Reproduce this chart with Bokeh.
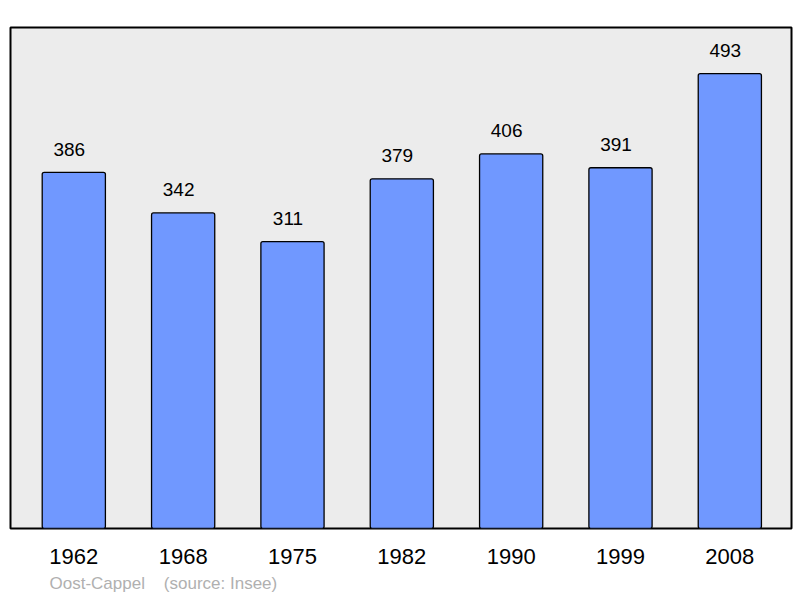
from bokeh.plotting import figure
from bokeh.models import ColumnDataSource, Range1d, FixedTicker, Title
from bokeh.core.properties import value
from bokeh.embed import file_html
from bokeh.resources import INLINE

years = ["1962", "1968", "1975", "1982", "1990", "1999", "2008"]
population = [386, 342, 311, 379, 406, 391, 493]
commune = "Oost-Cappel"
source_note = "(source: Insee)"

FONT = "Liberation Sans"
idx = list(range(len(years)))
src = ColumnDataSource(dict(x=idx, top=population, label=[str(v) for v in population]))

p = figure(width=800, height=598, output_backend="svg", toolbar_location=None,
           x_range=Range1d(-0.579, 6.564), y_range=Range1d(0, 543),
           min_border_left=10, min_border_right=9, min_border_top=27, min_border_bottom=70)
p.background_fill_color = "#ececec"
p.border_fill_color = "white"
p.outline_line_color = "black"
p.outline_line_width = 2
p.grid.visible = False
p.yaxis.visible = False

p.vbar(x="x", top="top", width=0.578, bottom=0, source=src,
       fill_color="#7098ff", line_color="black", line_width=1.3, border_radius=2)

p.text(x="x", y="top", text="label", source=src, x_offset=-4.5, y_offset=-23,
       text_align="center", text_baseline="alphabetic",
       text_font=value(FONT), text_font_size="19px", text_color="black")

xa = p.xaxis[0]
xa.ticker = FixedTicker(ticks=idx)
xa.major_label_overrides = {i: y for i, y in zip(idx, years)}
xa.axis_line_color = None
xa.major_tick_line_color = None
xa.minor_tick_line_color = None
xa.major_tick_out = 0
xa.major_label_standoff = 20
xa.major_label_text_font = FONT
xa.major_label_text_font_size = "22px"
xa.major_label_text_color = "black"

note = Title(text=commune + "\u00a0" * 4 + source_note, align="left", offset=39,
             text_font=FONT, text_font_size="17px", text_font_style="normal",
             text_color="#b0b0b0", standoff=11)
p.add_layout(note, "below")

open("out.html", "w").write(file_html(p, INLINE))
